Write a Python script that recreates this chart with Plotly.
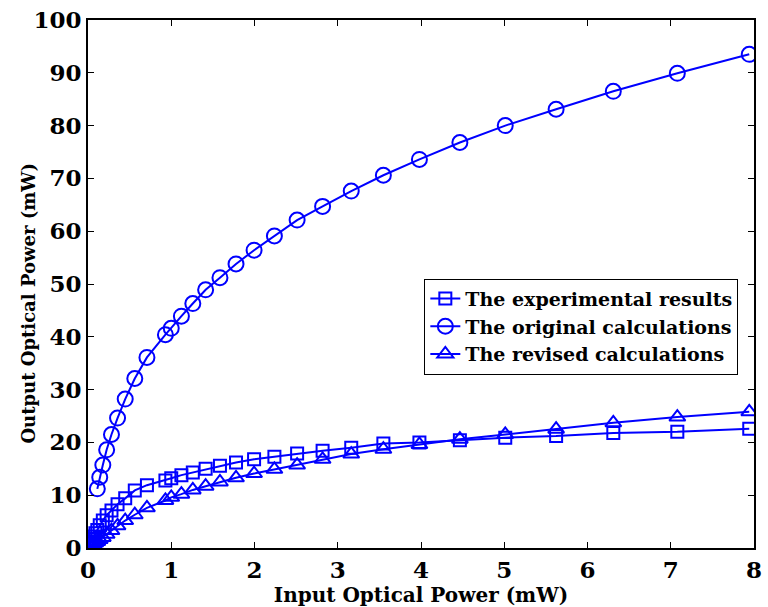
import plotly.graph_objects as go

# Input optical power (mW) for the measured / revised series
x_meas = [0.0282, 0.0355, 0.0447, 0.0562, 0.0708, 0.0891, 0.112, 0.141, 0.178,
          0.224, 0.282, 0.355, 0.447, 0.562, 0.708, 0.93, 1.0, 1.122, 1.259,
          1.413, 1.585, 1.778, 1.995, 2.239, 2.512, 2.818, 3.162, 3.548, 3.981,
          4.467, 5.012, 5.623, 6.310, 7.079, 7.943]

# Experimental output power (mW)
y_exp = [0.85, 1.05, 1.3, 1.7, 2.2, 2.8, 3.4, 4.3, 5.2,
         6.2, 7.1, 8.3, 9.4, 10.9, 11.9, 12.8, 13.2, 13.8, 14.3,
         15.0, 15.6, 16.2, 16.8, 17.3, 17.9, 18.4, 19.0, 19.8, 20.0,
         20.4, 20.9, 21.2, 21.8, 22.0, 22.6]

# Revised calculation output power (mW)
y_rev = [0.32, 0.4, 0.5, 0.63, 0.8, 1.0, 1.25, 1.6, 2.0,
         2.6, 3.3, 4.2, 5.2, 6.3, 7.6, 9.0, 9.6, 10.2, 11.0,
         11.7, 12.5, 13.3, 14.1, 14.9, 15.7, 16.8, 17.8, 18.7, 19.6,
         20.6, 21.5, 22.5, 23.7, 24.8, 25.8]

# Original calculation (starts at 0.112 mW)
x_orig = [0.112, 0.141, 0.178, 0.224, 0.282, 0.355, 0.447, 0.562, 0.708,
          0.93, 1.0, 1.122, 1.259, 1.413, 1.585, 1.778, 1.995, 2.239, 2.512,
          2.818, 3.162, 3.548, 3.981, 4.467, 5.012, 5.623, 6.310, 7.079, 7.943]
y_orig = [11.2, 13.4, 15.7, 18.6, 21.5, 24.6, 28.2, 32.1, 36.1,
          40.4, 41.6, 43.9, 46.3, 48.9, 51.2, 53.8, 56.4, 59.1, 62.1,
          64.7, 67.6, 70.6, 73.6, 76.8, 80.0, 83.1, 86.5, 89.9, 93.5]

x_ticks = [0, 1, 2, 3, 4, 5, 6, 7, 8]
y_ticks = [0, 10, 20, 30, 40, 50, 60, 70, 80, 90, 100]

BLUE = "#0000ff"
FONT = "DejaVu Serif"

fig = go.Figure()
fig.add_trace(go.Scatter(
    x=x_meas, y=y_exp, mode="lines+markers", name="The experimental results",
    line=dict(color=BLUE, width=2),
    marker=dict(symbol="square-open", size=12, color=BLUE, line=dict(width=2, color=BLUE)),
))
fig.add_trace(go.Scatter(
    x=x_orig, y=y_orig, mode="lines+markers", name="The original calculations",
    line=dict(color=BLUE, width=2),
    marker=dict(symbol="circle-open", size=15, color=BLUE, line=dict(width=2, color=BLUE)),
))
fig.add_trace(go.Scatter(
    x=x_meas, y=y_rev, mode="lines+markers", name="The revised calculations",
    line=dict(color=BLUE, width=2),
    marker=dict(symbol="triangle-up-open", size=14, color=BLUE, line=dict(width=2, color=BLUE)),
))

axis_common = dict(
    showline=True, linecolor="black", linewidth=2, mirror="ticks",
    ticks="inside", ticklen=6, tickwidth=1, tickcolor="black",
    showgrid=False, zeroline=False, ticklabeloverflow="allow",
    tickfont=dict(family=FONT, size=23, color="black", weight="bold"),
)

fig.update_layout(
    width=768, height=607,
    margin=dict(l=88, r=6, t=18, b=58),
    paper_bgcolor="white", plot_bgcolor="white",
    font=dict(family=FONT, color="black"),
    xaxis=dict(
        range=[0, 8], tickmode="array", tickvals=x_ticks,
        title=dict(text="<b>Input Optical Power (mW)</b>",
                   font=dict(family=FONT, size=20, color="black"), standoff=4),
        **axis_common,
    ),
    yaxis=dict(
        range=[0, 100], tickmode="array", tickvals=y_ticks,
        **axis_common,
    ),
    annotations=[dict(
        text="<b>Output Optical Power (mW)</b>", textangle=-90,
        xref="paper", yref="paper", x=-0.09, y=0.463,
        xanchor="center", yanchor="middle", showarrow=False,
        font=dict(family=FONT, size=18, color="black"),
    )],
    legend=dict(
        x=0.505, y=0.51, xanchor="left", yanchor="top",
        bgcolor="white", bordercolor="black", borderwidth=1,
        font=dict(family=FONT, size=19, color="black", weight="bold"),
        itemwidth=30,
    ),
    showlegend=True,
)

fig.write_html("out.html")
